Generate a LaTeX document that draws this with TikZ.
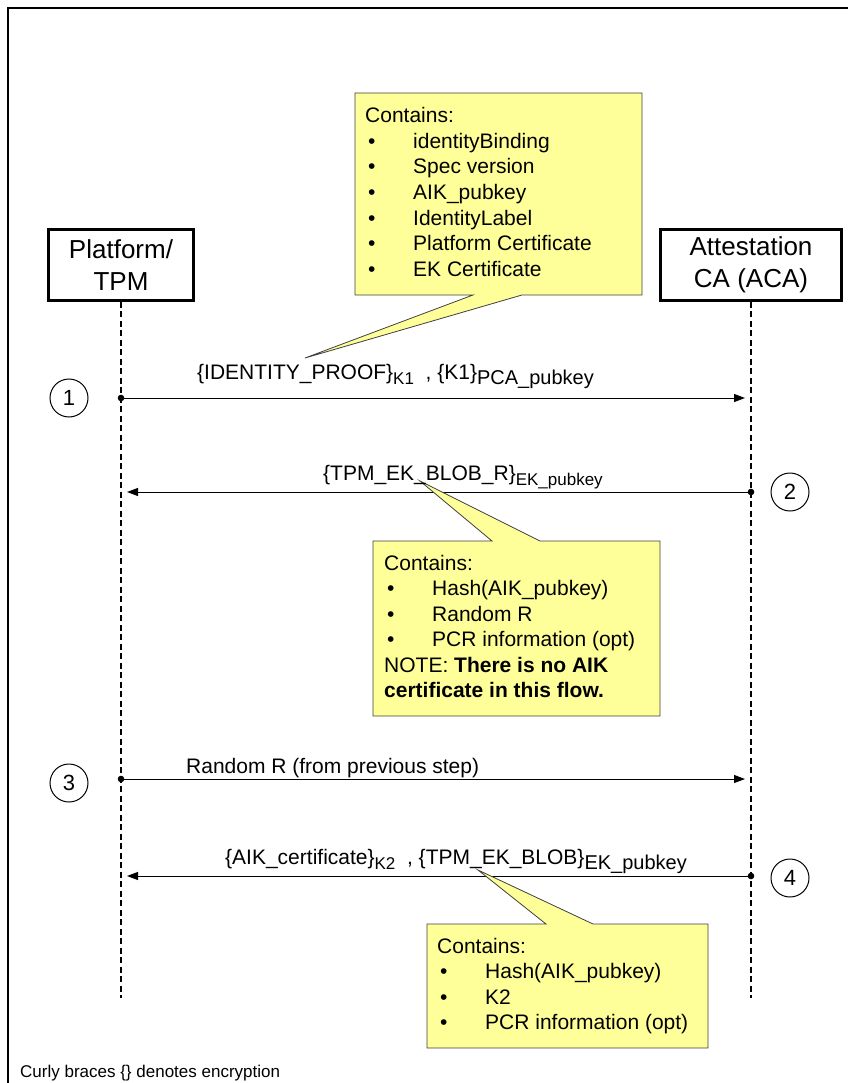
\documentclass[tikz,border=0pt]{standalone}
\usepackage{fontspec}
\setmainfont{Liberation Sans}
\usetikzlibrary{arrows.meta}
\definecolor{calloutfill}{RGB}{255,255,153}
\newcommand\sbs[1]{\raisebox{-5.5pt}{\fontsize{17}{17}\selectfont #1}}
\newcommand\sbb[1]{\raisebox{-5.5pt}{\fontsize{20}{20}\selectfont #1}}
\newcommand\itm[1]{\makebox[48pt][l]{\hspace{3pt}\textbullet}#1}
\begin{document}
\begin{tikzpicture}[x=1pt,y=-1pt,
  actor/.style={draw,line width=2.5pt,align=center,inner sep=0pt,minimum height=71pt,
    font=\fontsize{26}{32.5}\selectfont},
  lifeline/.style={line width=1.3pt,dash pattern=on 6pt off 3.5pt},
  msg/.style={line width=1pt,-{Triangle[length=11pt,width=8pt]},shorten >=6pt},
  dotend/.style={fill=black},
  num/.style={circle,draw,line width=1pt,minimum size=38pt,inner sep=0pt,
    font=\fontsize{22}{22}\selectfont},
  lbl/.style={anchor=base west,inner sep=0pt,font=\fontsize{21}{25}\selectfont},
  callout/.style={fill=calloutfill,draw=black!75,line width=0.8pt},
  ctext/.style={anchor=base west,align=left,inner sep=0pt,font=\fontsize{21}{25.5}\selectfont},
  frame/.style={line width=2pt}]
\useasboundingbox (0,0) rectangle (848,1083);
% frame
\draw[frame] (8,1083) -- (8,8) -- (848,8);
% actors
\node[actor,minimum width=145pt] (plat) at (121,265) {Platform/\\TPM};
\node[actor,minimum width=181pt] (aca) at (751,265) {Attestation\\CA (ACA)};
\coordinate (pend) at (121,998);
\coordinate (aend) at (751,998);
\draw[lifeline] (plat.south) -- (pend);
\draw[lifeline] (aca.south) -- (aend);
% message end points
\coordinate (p1) at (121,398); \coordinate (a1) at (751,398);
\coordinate (p2) at (121,492); \coordinate (a2) at (751,492);
\coordinate (p3) at (121,779); \coordinate (a3) at (751,779);
\coordinate (p4) at (121,876); \coordinate (a4) at (751,876);
% messages
\draw[msg] (p1) -- (a1); \fill[dotend] (p1) circle[radius=3.3pt];
\draw[msg] (a2) -- (p2); \fill[dotend] (a2) circle[radius=3.3pt];
\draw[msg] (p3) -- (a3); \fill[dotend] (p3) circle[radius=3.3pt];
\draw[msg] (a4) -- (p4); \fill[dotend] (a4) circle[radius=3.3pt];
% step numbers
\node[num] (c1) at (69,398) {1};
\node[num] (c2) at (790,492) {2};
\node[num] (c3) at (69,783) {3};
\node[num] (c4) at (790,878) {4};
% callout tips
\coordinate (tip1) at (305,358);
\coordinate (tip2) at (420,481);
\coordinate (tip3) at (478,870);
% callouts (text nodes anchored at the baseline of their last line)
\path[callout] (355,93) -- (642,93) -- (642,295) -- (522,295) -- (tip1) -- (473,295) -- (355,295) -- cycle;
\node[ctext] (k1) at (365,276) {Contains:\\\itm{identityBinding}\\\itm{Spec version}\\\itm{AIK\_pubkey}\\\itm{IdentityLabel}\\\itm{Platform Certificate}\\\itm{EK Certificate}};
\path[callout] (373,541) -- (492,541) -- (tip2) -- (540,541) -- (660,541) -- (660,716) -- (373,716) -- cycle;
\node[ctext] (k2) at (384,697.5) {Contains:\\\itm{Hash(AIK\_pubkey)}\\\itm{Random R}\\\itm{PCR information (opt)}\\NOTE: \textbf{There is no AIK}\\\textbf{certificate in this flow.}};
\path[callout] (427,924) -- (546,924) -- (tip3) -- (593,924) -- (708,924) -- (708,1048) -- (427,1048) -- cycle;
\node[ctext] (k3) at (437,1029.5) {Contains:\\\itm{Hash(AIK\_pubkey)}\\\itm{K2}\\\itm{PCR information (opt)}};
% message labels
\node[lbl] (m1) at (197,379) {\{IDENTITY\_PROOF\}\sbs{K1}\ \ , \{K1\}\sbb{PCA\_pubkey}};
\node[lbl] (m2) at (323,480) {\{TPM\_EK\_BLOB\_R\}\sbs{EK\_pubkey}};
\node[lbl] (m3) at (186,773) {Random R (from previous step)};
\node[lbl] (m4) at (225,864) {\{AIK\_certificate\}\sbs{K2}\ \ , \{TPM\_EK\_BLOB\}\sbb{EK\_pubkey}};
% footer
\node[anchor=base west,inner sep=0pt,font=\fontsize{17}{20}\selectfont] (foot) at (20,1077) {Curly braces \{\} denotes encryption};
\end{tikzpicture}
\end{document}
